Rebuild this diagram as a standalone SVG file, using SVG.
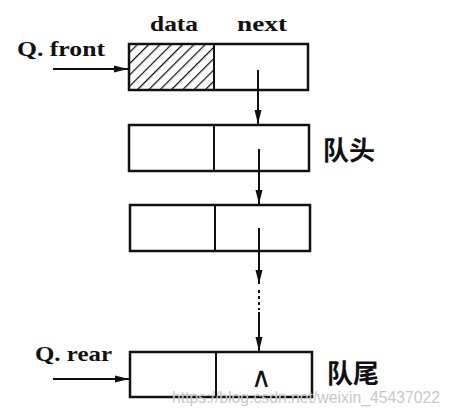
<svg xmlns="http://www.w3.org/2000/svg" width="452" height="416" viewBox="0 0 452 416">
<style>
.box{fill:none;stroke:#111;stroke-width:2.5}
.ln{stroke:#111;stroke-width:2;fill:none}
.lbl{font-family:"Liberation Serif",serif;font-weight:bold;font-size:22px;fill:#111}
.cjk{font-family:"Noto Sans CJK SC",sans-serif;font-weight:bold;font-size:26px;fill:#111}
.wm{font-family:"Liberation Sans",sans-serif;font-size:16px;fill:#c8c8c8}
</style>
<defs>
<pattern id="hatch" patternUnits="userSpaceOnUse" width="8" height="8" patternTransform="rotate(45)">
<line x1="0" y1="0" x2="0" y2="8" stroke="#111" stroke-width="2.5"/>
</pattern>
<marker id="ah" viewBox="0 0 14 8" refX="14" refY="4" markerWidth="7" markerHeight="4" orient="auto" markerUnits="strokeWidth">
<path d="M0,0.5 L14,4 L0,7.5 Z" fill="#111"/>
</marker>
</defs>
<rect width="452" height="416" fill="#fff"/>
<text class="lbl" x="150" y="31" textLength="48" lengthAdjust="spacingAndGlyphs">data</text>
<text class="lbl" x="237" y="31" textLength="50" lengthAdjust="spacingAndGlyphs">next</text>
<text class="lbl" x="17" y="56" textLength="88" lengthAdjust="spacingAndGlyphs">Q. front</text>
<text class="lbl" x="35" y="361" textLength="77" lengthAdjust="spacingAndGlyphs">Q. rear</text>
<g id="node1">
<rect x="129" y="44" width="85" height="46" fill="url(#hatch)"/>
<rect class="box" x="129" y="44" width="179" height="46"/>
<line class="ln" x1="214" y1="44" x2="214" y2="90" stroke-width="2.5"/>
</g>
<g id="node2">
<rect class="box" x="129" y="125" width="180" height="46"/>
<line class="ln" x1="214" y1="125" x2="214" y2="171" stroke-width="2.5"/>
<text class="cjk" x="323" y="160">队头</text>
</g>
<g id="node3">
<rect class="box" x="130" y="205" width="180" height="46"/>
<line class="ln" x1="215" y1="205" x2="215" y2="251" stroke-width="2.5"/>
</g>
<g id="node4">
<rect class="box" x="130" y="352" width="182" height="45"/>
<line class="ln" x1="216" y1="352" x2="216" y2="397" stroke-width="2.5"/>
<text x="261" y="387" text-anchor="middle" font-family="Liberation Sans,sans-serif" font-size="28" fill="#111">∧</text>
<text class="cjk" x="327" y="383">队尾</text>
</g>
<g id="connectors">
<line class="ln" x1="53" y1="69" x2="128" y2="69" marker-end="url(#ah)"/>
<line class="ln" x1="53" y1="379" x2="129" y2="379" marker-end="url(#ah)"/>
<line class="ln" x1="258" y1="70" x2="258" y2="124" marker-end="url(#ah)"/>
<line class="ln" x1="259" y1="149" x2="259" y2="204" marker-end="url(#ah)"/>
<line class="ln" x1="259" y1="228" x2="259" y2="284" marker-end="url(#ah)"/>
<line class="ln" x1="259" y1="290" x2="259" y2="310" stroke-dasharray="3,3"/>
<line class="ln" x1="259" y1="312" x2="259" y2="351" marker-end="url(#ah)"/>
</g>
<text class="wm" x="172" y="403" textLength="268" lengthAdjust="spacingAndGlyphs">https://blog.csdn.net/weixin_45437022</text>
</svg>
